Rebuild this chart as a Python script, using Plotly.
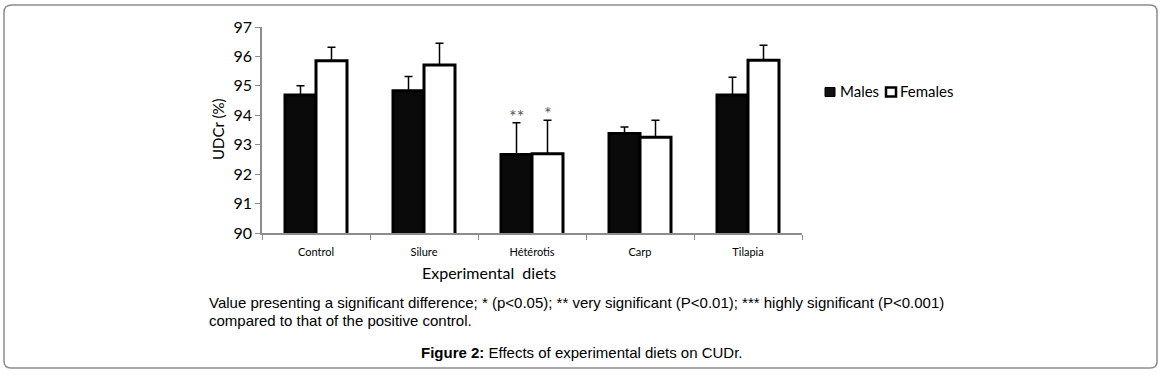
import plotly.graph_objects as go

categories = ["Control", "Silure", "Hétérotis", "Carp", "Tilapia"]
males = [94.69, 94.83, 92.67, 93.38, 94.69]
males_err = [0.31, 0.49, 1.08, 0.22, 0.60]
females = [95.85, 95.71, 92.69, 93.25, 95.87]
females_err = [0.46, 0.74, 1.14, 0.58, 0.51]
males_sig = ["", "", "**", "", ""]
females_sig = ["", "", "*", "", ""]
y_ticks = [90, 91, 92, 93, 94, 95, 96, 97]
series_names = ["Males", "Females"]

W, H = 1164, 377
L, R, T, B = 262, 802, 27, 233

font_chart = "Lato, 'Open Sans', sans-serif"
font_cap = "'Liberation Sans Narrow', 'Liberation Sans', Arial, sans-serif"

fig = go.Figure()
fig.add_trace(go.Bar(
    name=series_names[0], x=categories, y=males,
    marker=dict(color="#0a0a0a", line=dict(color="#000000", width=3)),
    error_y=dict(type="data", array=males_err, arrayminus=[0]*5, symmetric=False,
                 color="#000000", thickness=1.5, width=4),
))
fig.add_trace(go.Bar(
    name=series_names[1], x=categories, y=females,
    marker=dict(color="#ffffff", line=dict(color="#000000", width=3)),
    error_y=dict(type="data", array=females_err, arrayminus=[0]*5, symmetric=False,
                 color="#000000", thickness=1.5, width=4),
))

annotations = []
for i, c in enumerate(categories):
    if males_sig[i]:
        annotations.append(dict(x=c, y=males[i] + males_err[i], xref="x", yref="y",
                                text=males_sig[i], showarrow=False, xshift=-15.5, yshift=7,
                                yanchor="middle",
                                font=dict(family=font_chart, size=18, color="#5a5550")))
    if females_sig[i]:
        annotations.append(dict(x=c, y=females[i] + females_err[i], xref="x", yref="y",
                                text=females_sig[i], showarrow=False, xshift=15.5, yshift=7,
                                yanchor="middle",
                                font=dict(family=font_chart, size=18, color="#5a5550")))

def px(xp):
    return (xp - L) / (R - L)

def py(yp):
    return (B - yp) / (B - T)

def label(x, y, text, font, xanchor="center", angle=0):
    return dict(x=px(x), y=py(y), xref="paper", yref="paper", text=text, showarrow=False,
                xanchor=xanchor, yanchor="middle", textangle=angle, font=font)

f_cap = dict(family=font_cap, size=15, color="#000000")
annotations += [
    label(489, 272, "Experimental  diets", dict(family=font_chart, size=16, color="#000000")),
    label(218, 130, "UDCr (%)", dict(family=font_chart, size=15, color="#000000"), angle=-90),
    label(207, 302, "Value presenting a significant difference; * (p<0.05); ** very significant (P<0.01); *** highly significant (P<0.001)", f_cap, xanchor="left"),
    label(207, 320, "compared to that of the positive control.", f_cap, xanchor="left"),
    label(582, 352, "<b>Figure 2:</b> Effects of experimental diets on CUDr.", f_cap),
    # legend labels
    label(838, 91, series_names[0], dict(family=font_chart, size=15, color="#000000"), xanchor="left"),
    label(898, 91, series_names[1], dict(family=font_chart, size=15, color="#000000"), xanchor="left"),
]

shapes = [
    dict(type="path", xref="paper", yref="paper", layer="below",
         path=f"M {px(12)} {py(5)} L {px(1150)} {py(5)} Q {px(1157)} {py(5)} {px(1157)} {py(12)} "
              f"L {px(1157)} {py(362)} Q {px(1157)} {py(368)} {px(1150)} {py(368)} "
              f"L {px(11)} {py(368)} Q {px(4)} {py(368)} {px(4)} {py(361)} "
              f"L {px(4)} {py(12)} Q {px(4)} {py(5)} {px(12)} {py(5)} Z",
         line=dict(color="#8c8c8c", width=1.5)),
    # legend keys
    dict(type="rect", xref="paper", yref="paper", x0=px(825), x1=px(835), y0=py(96.5), y1=py(87.5),
         fillcolor="#111111", line=dict(color="#000000", width=1)),
    dict(type="rect", xref="paper", yref="paper", x0=px(886), x1=px(896), y0=py(96.5), y1=py(87.5),
         fillcolor="#ffffff", line=dict(color="#000000", width=2.5)),
]

fig.update_layout(
    width=W, height=H,
    margin=dict(l=L, r=W - R, t=T, b=H - B),
    paper_bgcolor="#ffffff", plot_bgcolor="#ffffff",
    barmode="group", bargap=0.426, bargroupgap=0,
    showlegend=False,
    annotations=annotations,
    shapes=shapes,
    font=dict(family=font_chart, color="#000000"),
)
fig.update_xaxes(showline=True, linecolor="#8c8c8c", linewidth=1.5, ticks="outside",
                 tickson="boundaries", ticklen=5, tickcolor="#8c8c8c",
                 ticklabelstandoff=8,
                 tickfont=dict(family=font_chart, size=11, color="#000000"),
                 showgrid=False, zeroline=False)
fig.update_yaxes(range=[90, 97], tickvals=y_ticks, showline=True, linecolor="#8c8c8c",
                 linewidth=1.5, ticks="outside", ticklen=5, tickcolor="#8c8c8c",
                 tickfont=dict(family=font_chart, size=16, color="#000000"),
                 showgrid=False, zeroline=False)

fig.write_html("out.html", config={"displayModeBar": False},
               post_script="document.body.style.margin='0';")
